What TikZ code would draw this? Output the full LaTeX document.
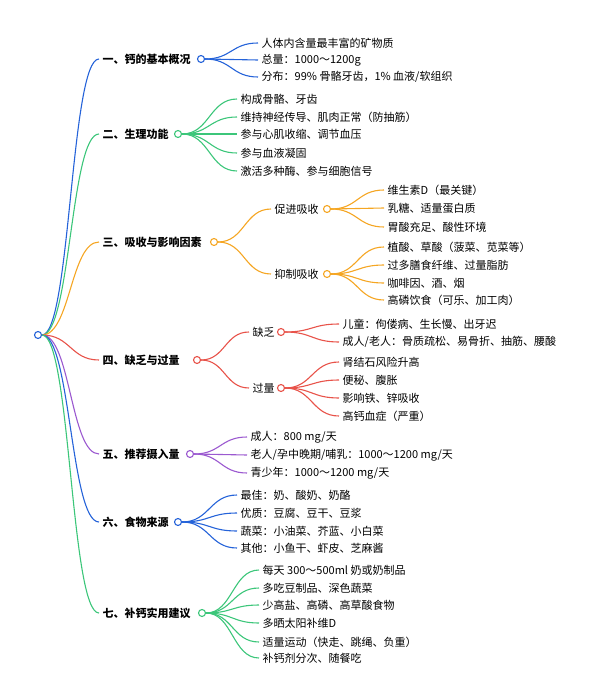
\documentclass[tikz,border=0pt]{standalone}
\usepackage{fontspec}
\setmainfont{Noto Sans CJK SC}
\usetikzlibrary{calc}
\definecolor{cb}{HTML}{2563D9}
\definecolor{cg}{HTML}{3CC67A}
\definecolor{co}{HTML}{F5A623}
\definecolor{cr}{HTML}{E8534A}
\definecolor{cp}{HTML}{9B59D0}
\newcommand{\edg}[3]{\draw[#1,line width=1.1pt] let \p1=(#2.east), \p2=(#3.west) in (\p1) .. controls ({(\x1+\x2)/2},\y1) and ({(\x1+\x2)/2},\y2) .. (\p2);}
\begin{document}
\begin{tikzpicture}[x=1pt,y=-1pt,
  t/.style={anchor=west,inner sep=3.5pt,font=\fontsize{11}{12}\selectfont},
  h/.style={anchor=west,inner sep=3.5pt,font=\fontsize{11}{12}\selectfont\bfseries},
  c/.style={circle,draw=#1,line width=1.1pt,fill=white,minimum size=7pt,inner sep=0pt}]
\useasboundingbox (0,0) rectangle (600,698);
\node[c=cb] (r) at (38,335) {};
% branch 1
\node[h] (a) at (99,59) {一、钙的基本概况};
\node[c=cb] (ac) at (201,59) {};
\node[t] (a1) at (258,43) {人体内含量最丰富的矿物质};
\node[t] (a2) at (258,60) {总量：1000～1200g};
\node[t] (a3) at (258,77) {分布：99\% 骨骼牙齿，1\% 血液/软组织};
\edg{cb}{r}{a}\foreach \i in {1,2,3}{\edg{cb}{ac}{a\i}}
% branch 2
\node[h] (b) at (99,134) {二、生理功能};
\node[c=cg] (bc) at (178,134) {};
\node[t] (b1) at (237,99) {构成骨骼、牙齿};
\node[t] (b2) at (237,117) {维持神经传导、肌肉正常（防抽筋）};
\node[t] (b3) at (237,134) {参与心肌收缩、调节血压};
\node[t] (b4) at (237,153) {参与血液凝固};
\node[t] (b5) at (237,171) {激活多种酶、参与细胞信号};
\edg{cg}{r}{b}\foreach \i in {1,...,5}{\edg{cg}{bc}{b\i}}
% branch 3
\node[h] (c) at (99,242) {三、吸收与影响因素};
\node[c=co] (cc) at (214,242) {};
\node[t] (cA) at (271,209) {促进吸收};
\node[c=co] (cAc) at (327,209) {};
\node[t] (cB) at (271,274) {抑制吸收};
\node[c=co] (cBc) at (327,274) {};
\node[t] (cA1) at (384,190) {维生素D（最关键）};
\node[t] (cA2) at (384,208) {乳糖、适量蛋白质};
\node[t] (cA3) at (384,227) {胃酸充足、酸性环境};
\node[t] (cB1) at (384,247) {植酸、草酸（菠菜、苋菜等）};
\node[t] (cB2) at (384,265) {过多膳食纤维、过量脂肪};
\node[t] (cB3) at (384,283) {咖啡因、酒、烟};
\node[t] (cB4) at (384,300) {高磷饮食（可乐、加工肉）};
\edg{co}{r}{c}\edg{co}{cc}{cA}\edg{co}{cc}{cB}
\foreach \i in {1,2,3}{\edg{co}{cAc}{cA\i}}
\foreach \i in {1,...,4}{\edg{co}{cBc}{cB\i}}
% branch 4
\node[h] (d) at (99,360) {四、缺乏与过量};
\node[c=cr] (dc) at (197,360) {};
\node[t] (dA) at (249,332) {缺乏};
\node[c=cr] (dAc) at (281,332) {};
\node[t] (dB) at (249,388) {过量};
\node[c=cr] (dBc) at (281,388) {};
\node[t] (dA1) at (339,324) {儿童：佝偻病、生长慢、出牙迟};
\node[t] (dA2) at (339,342) {成人/老人：骨质疏松、易骨折、抽筋、腰酸};
\node[t] (dB1) at (339,362) {肾结石风险升高};
\node[t] (dB2) at (339,380) {便秘、腹胀};
\node[t] (dB3) at (339,398) {影响铁、锌吸收};
\node[t] (dB4) at (339,416) {高钙血症（严重）};
\edg{cr}{r}{d}\edg{cr}{dc}{dA}\edg{cr}{dc}{dB}
\foreach \i in {1,2}{\edg{cr}{dAc}{dA\i}}
\foreach \i in {1,...,4}{\edg{cr}{dBc}{dB\i}}
% branch 5
\node[h] (e) at (99,454) {五、推荐摄入量};
\node[c=cp] (ec) at (190,454) {};
\node[t] (e1) at (247,437) {成人：800 mg/天};
\node[t] (e2) at (247,455) {老人/孕中晚期/哺乳：1000～1200 mg/天};
\node[t] (e3) at (247,473) {青少年：1000～1200 mg/天};
\edg{cp}{r}{e}\foreach \i in {1,2,3}{\edg{cp}{ec}{e\i}}
% branch 6
\node[h] (f) at (99,522) {六、食物来源};
\node[c=cb] (fc) at (178,522) {};
\node[t] (f1) at (237,495) {最佳：奶、酸奶、奶酪};
\node[t] (f2) at (237,513) {优质：豆腐、豆干、豆浆};
\node[t] (f3) at (237,531) {蔬菜：小油菜、芥蓝、小白菜};
\node[t] (f4) at (237,548) {其他：小鱼干、虾皮、芝麻酱};
\edg{cb}{r}{f}\foreach \i in {1,...,4}{\edg{cb}{fc}{f\i}}
% branch 7
\node[h] (g) at (99,613) {七、补钙实用建议};
\node[c=cg] (gc) at (202,613) {};
\node[t] (g1) at (259,570) {每天 300～500ml 奶或奶制品};
\node[t] (g2) at (259,588) {多吃豆制品、深色蔬菜};
\node[t] (g3) at (259,605) {少高盐、高磷、高草酸食物};
\node[t] (g4) at (259,623) {多晒太阳补维D};
\node[t] (g5) at (259,642) {适量运动（快走、跳绳、负重）};
\node[t] (g6) at (259,658) {补钙剂分次、随餐吃};
\edg{cg}{r}{g}\foreach \i in {1,...,6}{\edg{cg}{gc}{g\i}}
\end{tikzpicture}
\end{document}
